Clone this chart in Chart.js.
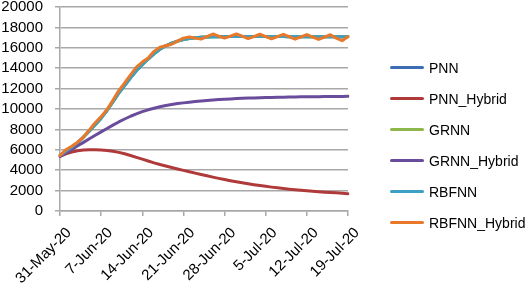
<!DOCTYPE html>
<html>
<head>
<meta charset="utf-8">
<script src="https://cdn.jsdelivr.net/npm/chart.js@4"></script>
<style>
  html, body { margin: 0; padding: 0; background: #fff; }
  #wrap { position: relative; width: 532px; height: 289px; }
  #legend { position: absolute; left: 390px; top: 0; font: 14px 'Liberation Sans', Arial, sans-serif; color: #000; }
  #legend .item { position: absolute; left: 0; height: 16px; white-space: nowrap; }
  #legend .swatch { position: absolute; left: 0; top: 6px; width: 34px; height: 3px; border-radius: 2px; }
  #legend .txt { position: absolute; left: 39px; top: 0; line-height: 16px; }
</style>
</head>
<body>
<div id="wrap">
  <canvas id="chart" width="532" height="289"></canvas>
  <div id="legend"></div>
</div>
<script>
// daily dates, 31-May-20 .. 19-Jul-20
const dates = [
  '31-May-20',
  '1-Jun-20', '2-Jun-20', '3-Jun-20', '4-Jun-20', '5-Jun-20', '6-Jun-20', '7-Jun-20', '8-Jun-20', '9-Jun-20', '10-Jun-20',
  '11-Jun-20', '12-Jun-20', '13-Jun-20', '14-Jun-20', '15-Jun-20', '16-Jun-20', '17-Jun-20', '18-Jun-20', '19-Jun-20', '20-Jun-20',
  '21-Jun-20', '22-Jun-20', '23-Jun-20', '24-Jun-20', '25-Jun-20', '26-Jun-20', '27-Jun-20', '28-Jun-20', '29-Jun-20', '30-Jun-20',
  '1-Jul-20', '2-Jul-20', '3-Jul-20', '4-Jul-20', '5-Jul-20', '6-Jul-20', '7-Jul-20', '8-Jul-20', '9-Jul-20', '10-Jul-20',
  '11-Jul-20', '12-Jul-20', '13-Jul-20', '14-Jul-20', '15-Jul-20', '16-Jul-20', '17-Jul-20', '18-Jul-20', '19-Jul-20'
];

// only these get a tick + label
const shownTicks = ['31-May-20', '7-Jun-20', '14-Jun-20', '21-Jun-20', '28-Jun-20', '5-Jul-20', '12-Jul-20', '19-Jul-20'];

const pnn = [5450, 5850, 6250, 6700, 7250, 7850, 8450, 9100, 9850, 10700,
  11550, 12300, 13050, 13750, 14350, 14900, 15400, 15850, 16200, 16450,
  16650, 16800, 16900, 16980, 17030, 17060, 17080, 17090, 17100, 17100,
  17110, 17100, 17100, 17110, 17100, 17100, 17090, 17100, 17100, 17090,
  17100, 17090, 17100, 17090, 17080, 17090, 17090, 17080, 17080, 17090];

const pnnHybrid = [5350, 5600, 5780, 5900, 5980, 6010, 6000, 5970, 5940, 5860,
  5750, 5610, 5440, 5260, 5080, 4900, 4720, 4560, 4410, 4260,
  4120, 3980, 3850, 3710, 3580, 3450, 3320, 3200, 3080, 2970,
  2870, 2770, 2670, 2580, 2500, 2420, 2340, 2270, 2200, 2140,
  2090, 2030, 1980, 1930, 1890, 1850, 1810, 1780, 1740, 1700];

const grnn = [5450, 5850, 6250, 6700, 7250, 7850, 8450, 9100, 9850, 10700,
  11550, 12300, 13050, 13750, 14350, 14900, 15400, 15850, 16200, 16450,
  16650, 16800, 16900, 16980, 17030, 17060, 17080, 17090, 17100, 17100,
  17110, 17100, 17100, 17110, 17100, 17100, 17090, 17100, 17100, 17090,
  17100, 17090, 17100, 17090, 17080, 17090, 17090, 17080, 17080, 17090];

const grnnHybrid = [5350, 5700, 6040, 6390, 6730, 7080, 7420, 7760, 8090, 8420,
  8730, 9020, 9290, 9530, 9740, 9920, 10080, 10220, 10340, 10440,
  10530, 10600, 10670, 10730, 10790, 10840, 10880, 10920, 10960, 10990,
  11020, 11050, 11070, 11090, 11110, 11120, 11135, 11150, 11160, 11170,
  11180, 11190, 11195, 11200, 11210, 11215, 11220, 11225, 11230, 11240];

const rbfnn = [5450, 5850, 6250, 6700, 7250, 7850, 8450, 9100, 9850, 10700,
  11550, 12300, 13050, 13750, 14350, 14900, 15400, 15850, 16200, 16450,
  16650, 16800, 16900, 16980, 17030, 17060, 17080, 17090, 17100, 17100,
  17110, 17100, 17100, 17110, 17100, 17100, 17090, 17100, 17100, 17090,
  17100, 17090, 17100, 17090, 17080, 17090, 17090, 17080, 17080, 17090];

const rbfnnHybrid = [5450, 6000, 6350, 6750, 7250, 7950, 8650, 9250, 9950, 10850,
  11800, 12550, 13350, 14100, 14600, 15000, 15650, 16050, 16200, 16350,
  16650, 16950, 17050, 16950, 16850, 17100, 17350, 17150, 16950, 17150,
  17350, 17150, 16900, 17100, 17330, 17100, 16880, 17100, 17320, 17100,
  16850, 17080, 17300, 17050, 16820, 17050, 17280, 16950, 16700, 17100];

const seriesNames = ['PNN', 'PNN_Hybrid', 'GRNN', 'GRNN_Hybrid', 'RBFNN', 'RBFNN_Hybrid'];
const seriesData = [pnn, pnnHybrid, grnn, grnnHybrid, rbfnn, rbfnnHybrid];
const seriesColors = ['#3d6eb4', '#b03a3a', '#8db74a', '#6a4c9c', '#3ba0c4', '#e8782a'];

const gridColor = '#a8a8a8';

// later series drawn on top, like the original
const datasets = seriesNames.map((name, i) => ({
  label: name,
  data: seriesData[i],
  borderColor: seriesColors[i],
  backgroundColor: seriesColors[i],
  borderWidth: 3,
  borderCapStyle: 'round',
  borderJoinStyle: 'round',
  pointRadius: 0,
  tension: 0,
  order: seriesNames.length - i,
}));

new Chart(document.getElementById('chart'), {
  type: 'line',
  data: { labels: dates, datasets: datasets },
  options: {
    responsive: false,
    animation: false,
    layout: { padding: { top: 0, left: 0, right: 184, bottom: 0 } },
    plugins: {
      tooltip: { enabled: false },
      legend: { display: false },
    },
    scales: {
      x: {
        offset: false,
        grid: { display: true, drawOnChartArea: false, drawTicks: true, tickLength: 5, color: gridColor, lineWidth: 1.5 },
        border: { display: true, color: gridColor, width: 1.5 },
        ticks: {
          autoSkip: false,
          minRotation: 45,
          maxRotation: 45,
          padding: 8,
          labelOffset: 9,
          color: '#000',
          font: { family: 'Liberation Sans, Arial, sans-serif', size: 15 },
          callback: function (val, idx) {
            const lab = dates[idx];
            return shownTicks.includes(lab) ? lab : null;
          },
        },
        afterFit: (scale) => { scale.height = 78; },
      },
      y: {
        min: 0,
        max: 20000,
        grid: { color: gridColor, lineWidth: 1.5, tickLength: 5 },
        border: { display: true, color: gridColor, width: 1.5 },
        ticks: {
          stepSize: 2000,
          padding: 12,
          color: '#000',
          font: { family: 'Liberation Sans, Arial, sans-serif', size: 15, lineHeight: 1 },
          callback: (v) => String(v),
        },
        afterFit: (scale) => {
          scale.width = 60;
          // tick padding is otherwise added above the top gridline
          scale.paddingTop = 7;
        },
      },
    },
  },
});

// legend on the right, same order as the series
const legendEl = document.getElementById('legend');
seriesNames.forEach((name, i) => {
  const item = document.createElement('div');
  item.className = 'item';
  item.style.top = (60 + i * 30.9) + 'px';
  const sw = document.createElement('div');
  sw.className = 'swatch';
  sw.style.background = seriesColors[i];
  const txt = document.createElement('span');
  txt.className = 'txt';
  txt.textContent = name;
  item.appendChild(sw);
  item.appendChild(txt);
  legendEl.appendChild(item);
});
</script>
</body>
</html>
